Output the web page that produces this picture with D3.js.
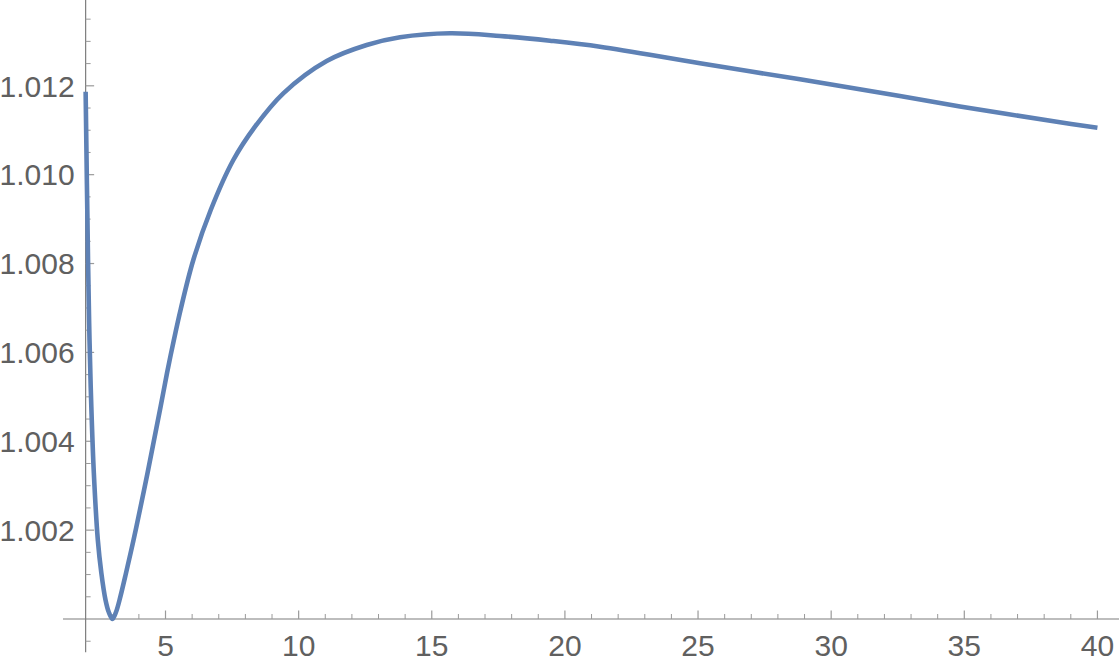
<!DOCTYPE html>
<html>
<head>
<meta charset="utf-8">
<script src="https://cdn.jsdelivr.net/npm/d3@7"></script>
<style>
  html, body { margin: 0; padding: 0; background: #fff; }
  svg { display: block; }
  text { font-family: "Liberation Sans", Arial, Helvetica, sans-serif; }
</style>
</head>
<body>
<svg id="chart" width="1119" height="659"></svg>
<script>
// ---- data ----
const xValues = [2.000, 2.090, 2.146, 2.214, 2.308, 2.458, 2.590, 2.747, 2.867, 3.010,
                 3.142, 3.273, 3.517, 3.799, 4.062, 4.325, 4.569, 4.813, 5.057, 5.300,
                 5.571, 6.044, 6.698, 7.547, 8.361, 9.424, 11.054, 12.556, 13.807, 15.685,
                 17.563, 19.440, 21.318, 25.073, 28.829, 32.584, 34.837, 38.592, 40.000];
const yValues = [1.011867, 1.008080, 1.006279, 1.004771, 1.003286, 1.001778, 1.001035, 1.000428, 1.000158, 1.000000,
                 1.000158, 1.000428, 1.001035, 1.001778, 1.002521, 1.003286, 1.004029, 1.004771, 1.005536, 1.006241,
                 1.006973, 1.008080, 1.009205, 1.010330, 1.011080, 1.011831, 1.012558, 1.012918, 1.013092, 1.013182,
                 1.013121, 1.013015, 1.012880, 1.012506, 1.012146, 1.011770, 1.011535, 1.011179, 1.011057];
const xMajorTicks = [5, 10, 15, 20, 25, 30, 35, 40];
const xMinorTicks = [3, 4, 6, 7, 8, 9, 11, 12, 13, 14, 16, 17, 18, 19, 21, 22, 23, 24, 26, 27, 28, 29, 31, 32, 33, 34, 36, 37, 38, 39];
const yMajorTicks = [1.002, 1.004, 1.006, 1.008, 1.010, 1.012];
const yMinorTicks = [0.9995, 1.0005, 1.0010, 1.0015, 1.0025, 1.0030, 1.0035, 1.0045, 1.0050, 1.0055, 1.0065, 1.0070, 1.0075, 1.0085, 1.0090, 1.0095, 1.0105, 1.0110, 1.0115, 1.0125, 1.0130, 1.0135];
const xDomain = [1.15, 40.81];
const yDomain = [0.9991, 1.013931];
const axisOrigin = { x: 2, y: 1.0 };

// ---- drawing ----
const W = 1119, H = 659;
const svg = d3.select("#chart");
const x = d3.scaleLinear().domain(xDomain).range([63, W]);
const y = d3.scaleLinear().domain(yDomain).range([H, 0]);

const axisColor = "#7d7d7d";
const tickColor = "#9a9a9a";
const labelColor = "#606060";

const data = xValues.map((v, i) => ({ x: v, y: yValues[i] }));

// x axis line
svg.append("line")
  .attr("x1", x(xDomain[0])).attr("x2", x(xDomain[1]))
  .attr("y1", y(axisOrigin.y)).attr("y2", y(axisOrigin.y))
  .attr("stroke", axisColor).attr("stroke-width", 1.2);

// y axis line
svg.append("line")
  .attr("x1", x(axisOrigin.x)).attr("x2", x(axisOrigin.x))
  .attr("y1", y(0.99925)).attr("y2", y(yDomain[1]))
  .attr("stroke", axisColor).attr("stroke-width", 1.2);

// x ticks
svg.selectAll(".xmaj").data(xMajorTicks).enter().append("line")
  .attr("x1", d => x(d)).attr("x2", d => x(d))
  .attr("y1", y(axisOrigin.y)).attr("y2", y(axisOrigin.y) - 8.5)
  .attr("stroke", tickColor).attr("stroke-width", 1.2);
svg.selectAll(".xmin").data(xMinorTicks).enter().append("line")
  .attr("x1", d => x(d)).attr("x2", d => x(d))
  .attr("y1", y(axisOrigin.y)).attr("y2", y(axisOrigin.y) - 5)
  .attr("stroke", tickColor).attr("stroke-width", 1);
svg.selectAll(".xlab").data(xMajorTicks).enter().append("text")
  .attr("x", d => x(d)).attr("y", y(axisOrigin.y) + 37)
  .attr("text-anchor", "middle")
  .attr("font-size", 30).attr("fill", labelColor)
  .text(d => d3.format("d")(d));

// y ticks
svg.selectAll(".ymaj").data(yMajorTicks).enter().append("line")
  .attr("x1", x(axisOrigin.x)).attr("x2", x(axisOrigin.x) + 8.5)
  .attr("y1", d => y(d)).attr("y2", d => y(d))
  .attr("stroke", tickColor).attr("stroke-width", 1.2);
svg.selectAll(".ymin").data(yMinorTicks).enter().append("line")
  .attr("x1", x(axisOrigin.x)).attr("x2", x(axisOrigin.x) + 5)
  .attr("y1", d => y(d)).attr("y2", d => y(d))
  .attr("stroke", tickColor).attr("stroke-width", 1);
svg.selectAll(".ylab").data(yMajorTicks).enter().append("text")
  .attr("x", x(axisOrigin.x) - 11).attr("y", d => y(d))
  .attr("dy", "0.36em")
  .attr("text-anchor", "end")
  .attr("font-size", 30).attr("fill", labelColor)
  .text(d => d3.format(".3f")(d));

// curve
const line = d3.line()
  .x(d => x(d.x)).y(d => y(d.y))
  .curve(d3.curveCatmullRom.alpha(0.5));
svg.append("path")
  .datum(data)
  .attr("d", line)
  .attr("fill", "none")
  .attr("stroke", "rgb(94,129,181)")
  .attr("stroke-width", 4.6)
  .attr("stroke-linejoin", "round");
</script>
</body>
</html>
